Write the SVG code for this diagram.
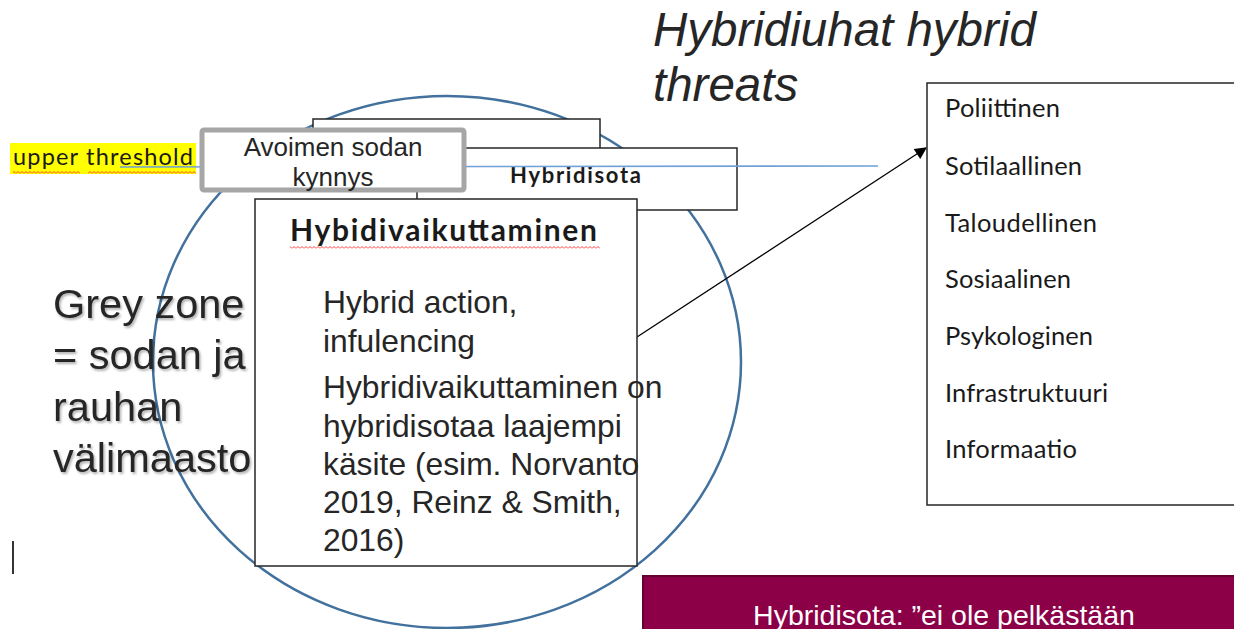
<svg xmlns="http://www.w3.org/2000/svg" width="1234" height="629" viewBox="0 0 1234 629">
  <style>
    .box { fill: #ffffff; stroke: #262626; stroke-width: 1.5; }
    .arial { font-family: "Liberation Sans", Arial, sans-serif; fill: #262626; }
    .cal { font-family: Lato, "Open Sans", sans-serif; fill: #1a1a1a; }
    .list { font-family: Lato, "Open Sans", sans-serif; font-size: 25.5px; fill: #1a1a1a; }
    .body { font-size: 31.8px; }
  </style>
  <defs>
    <pattern id="squiggle" width="4" height="3" patternUnits="userSpaceOnUse">
      <path d="M0,2.5 L2,0.5 L4,2.5" fill="none" stroke="#ff2a2a" stroke-width="0.9"/>
    </pattern>
    <marker id="arrowhead" viewBox="0 0 10 10" refX="9" refY="5" markerWidth="13" markerHeight="12" markerUnits="userSpaceOnUse" orient="auto">
      <path d="M0,0 L10,5 L0,10 Z" fill="#000000"/>
    </marker>
    <filter id="shadow" x="-10%" y="-10%" width="120%" height="130%">
      <feDropShadow dx="1.5" dy="2" stdDeviation="1.2" flood-color="#000000" flood-opacity="0.3"/>
    </filter>
  </defs>

  <rect width="1234" height="629" fill="#ffffff"/>

  <!-- large ellipse -->
  <g id="zone-circle">
    <ellipse cx="447" cy="362" rx="294" ry="266" fill="none" stroke="#41719c" stroke-width="2.5"/>
  </g>

  <!-- title -->
  <g id="title">
    <text class="arial" x="653" y="46" font-size="47.5" font-style="italic">Hybridiuhat hybrid</text>
    <text class="arial" x="653" y="101" font-size="47.5" font-style="italic">threats</text>
  </g>

  <!-- grey zone label -->
  <g id="grey-zone" filter="url(#shadow)">
    <text class="arial" x="53" y="318" font-size="41.5">Grey zone</text>
    <text class="arial" x="53" y="369" font-size="41.5">= sodan ja</text>
    <text class="arial" x="53" y="421" font-size="41.5">rauhan</text>
    <text class="arial" x="53" y="472" font-size="41.5">välimaasto</text>
  </g>

  <!-- upper threshold label -->
  <g id="upper-threshold">
    <rect x="10" y="143" width="186" height="31" fill="#ffff00"/>
    <text class="cal" x="13" y="165" font-size="23.5" textLength="180">upper threshold</text>
    <rect x="13" y="171" width="67" height="3" fill="url(#squiggle)"/>
    <rect x="88" y="171" width="108" height="3" fill="url(#squiggle)"/>
  </g>

  <!-- top blank box -->
  <g id="top-box">
    <rect class="box" x="313" y="119" width="287" height="44"/>
  </g>

  <!-- Hybridisota box -->
  <g id="hybridisota-box">
    <rect class="box" x="417" y="148" width="320" height="62"/>
    <text class="cal" x="510" y="183" font-size="22" font-weight="bold" textLength="131">Hybridisota</text>
  </g>

  <!-- connectors -->
  <g id="connectors">
    <line x1="120" y1="167" x2="878" y2="166" stroke="#6fa0d8" stroke-width="1.6"/>
    <line x1="637" y1="337" x2="926" y2="148" stroke="#000000" stroke-width="1.3" marker-end="url(#arrowhead)"/>
  </g>

  <!-- Avoimen sodan kynnys box -->
  <g id="avoimen-box">
    <rect x="202" y="130" width="262" height="60" rx="2" fill="#ffffff" stroke="#a6a6a6" stroke-width="5"/>
    <text class="arial" x="333" y="156" font-size="26" text-anchor="middle">Avoimen sodan</text>
    <text class="arial" x="333" y="186" font-size="26" text-anchor="middle">kynnys</text>
  </g>

  <!-- Hybidivaikuttaminen box -->
  <g id="hybidivaikuttaminen-box">
    <rect class="box" x="255" y="199" width="382" height="367"/>
    <text class="cal" x="290" y="241" font-size="30" font-weight="bold" textLength="307">Hybidivaikuttaminen</text>
    <rect x="290" y="246" width="310" height="3" fill="url(#squiggle)"/>
    <text class="arial body" x="323" y="313">Hybrid action,</text>
    <text class="arial body" x="323" y="352">infulencing</text>
    <text class="arial body" x="323" y="398">Hybridivaikuttaminen on</text>
    <text class="arial body" x="323" y="437">hybridisotaa laajempi</text>
    <text class="arial body" x="323" y="475">käsite (esim. Norvanto</text>
    <text class="arial body" x="323" y="513">2019, Reinz &amp; Smith,</text>
    <text class="arial body" x="323" y="551">2016)</text>
  </g>

  <!-- threat domains list -->
  <g id="domains-box">
    <rect class="box" x="927" y="83" width="320" height="422"/>
    <text class="list" x="945" y="117" textLength="115">Poliittinen</text>
    <text class="list" x="945" y="175" textLength="137">Sotilaallinen</text>
    <text class="list" x="945" y="232" textLength="152">Taloudellinen</text>
    <text class="list" x="945" y="288" textLength="126">Sosiaalinen</text>
    <text class="list" x="945" y="345" textLength="148">Psykologinen</text>
    <text class="list" x="945" y="402" textLength="163">Infrastruktuuri</text>
    <text class="list" x="945" y="458" textLength="132">Informaatio</text>
  </g>

  <!-- maroon callout -->
  <g id="hybridisota-callout">
    <rect x="643" y="576" width="600" height="60" fill="#8b0046" stroke="#660033" stroke-width="2"/>
    <text x="944" y="625" font-family="Liberation Sans, Arial, sans-serif" font-size="28.5" fill="#ffffff" text-anchor="middle">Hybridisota: ”ei ole pelkästään</text>
  </g>

  <!-- text cursor -->
  <g id="cursor">
    <rect x="12" y="541" width="2" height="33" fill="#333333"/>
  </g>
</svg>
